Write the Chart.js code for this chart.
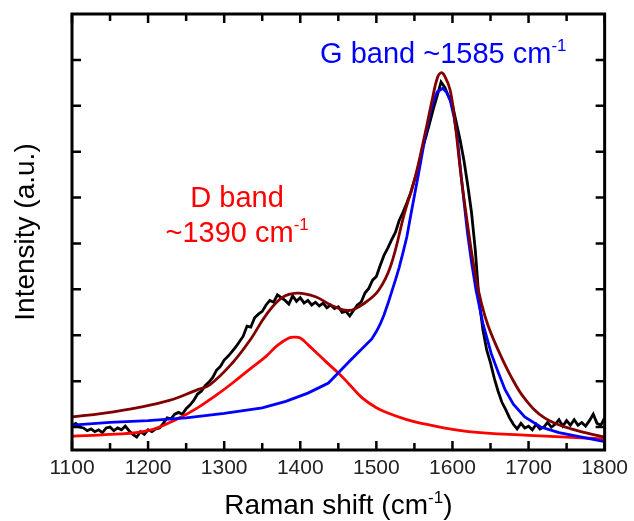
<!DOCTYPE html>
<html lang="en">
<head>
<meta charset="UTF-8">
<title>Raman spectrum - D and G bands</title>
<script src="https://cdn.jsdelivr.net/npm/chart.js"></script>
<style>
  html, body { margin: 0; padding: 0; background: #fff; }
  #wrap { width: 634px; height: 521px; }
</style>
</head>
<body>
<div id="wrap"><canvas id="raman"></canvas></div>
<script>
// measured spectrum (black), every 5 cm-1
const measuredShift = [
  1100,1105,1110,1115,1120,1125,1130,1135,1140,1145,1150,1155,1160,1165,1170,1175,1180,1185,1190,1195,
  1200,1205,1210,1215,1220,1225,1230,1235,1240,1245,1250,1255,1260,1265,1270,1275,1280,1285,1290,1295,
  1300,1305,1310,1315,1320,1325,1330,1335,1340,1345,1350,1355,1360,1365,1370,1375,1380,1385,1390,1395,
  1400,1405,1410,1415,1420,1425,1430,1435,1440,1445,1450,1455,1460,1465,1470,1475,1480,1485,1490,1495,
  1500,1505,1510,1515,1520,1525,1530,1535,1540,1545,1550,1555,1560,1565,1570,1575,1580,1585,1590,1595,
  1600,1605,1610,1615,1620,1625,1630,1635,1640,1645,1650,1655,1660,1665,1670,1675,1680,1685,1690,1695,
  1700,1705,1710,1715,1720,1725,1730,1735,1740,1745,1750,1755,1760,1765,1770,1775,1780,1785,1790,1795,
  1800
];
const measuredIntensity = [
  0.02,0.04,0.00,-0.01,-0.04,-0.02,-0.05,-0.03,-0.06,-0.01,0.00,-0.04,-0.01,-0.03,0.01,-0.04,-0.08,-0.11,-0.05,-0.08,
  -0.03,-0.05,-0.02,-0.01,0.04,0.10,0.09,0.14,0.16,0.14,0.20,0.24,0.29,0.36,0.39,0.45,0.49,0.54,0.62,0.66,
  0.73,0.77,0.82,0.87,0.93,0.99,1.10,1.09,1.19,1.23,1.26,1.33,1.38,1.36,1.44,1.41,1.38,1.34,1.43,1.37,
  1.41,1.35,1.38,1.33,1.36,1.32,1.35,1.30,1.33,1.29,1.31,1.25,1.26,1.21,1.27,1.33,1.36,1.46,1.51,1.60,
  1.64,1.76,1.87,1.95,2.04,2.12,2.25,2.34,2.44,2.55,2.69,2.82,3.02,3.16,3.31,3.47,3.61,3.76,3.70,3.60,
  3.51,3.32,3.13,2.91,2.64,2.34,1.93,1.38,1.06,0.84,0.70,0.53,0.39,0.27,0.19,0.10,0.03,-0.02,0.04,-0.01,
  0.01,-0.03,0.03,-0.02,0.00,0.05,0.00,0.03,0.08,0.01,0.07,0.02,0.08,0.02,0.05,0.01,0.07,0.14,0.04,0.02,
  0.10
];

// cumulative fit (dark red)
const fitShift = [1100,1140,1185,1228,1263,1281,1311,1335,1355,1376,1396,1420,1440,1464,1486,1503,1519,1537,1550,1563,
  1574,1580,1585,1590,1597,1603,1612,1622,1630,1638,1647,1660,1677,1695,1721,1756,1800];
const fitIntensity = [0.11,0.15,0.21,0.29,0.40,0.46,0.70,0.96,1.22,1.41,1.46,1.42,1.33,1.27,1.36,1.49,1.76,2.33,2.69,3.16,
  3.59,3.80,3.86,3.82,3.67,3.34,2.69,2.08,1.66,1.35,1.10,0.84,0.55,0.31,0.10,-0.02,-0.11];

// D band component (red)
const dShift = [1100,1150,1200,1241,1267,1290,1311,1335,1355,1370,1385,1392,1400,1411,1420,1434,1451,1464,1481,
  1500,1516,1540,1559,1621,1700,1800];
const dIntensity = [-0.10,-0.08,-0.04,0.10,0.22,0.35,0.48,0.64,0.77,0.89,0.97,0.98,0.97,0.89,0.82,0.71,0.58,0.47,0.32,
  0.21,0.15,0.08,0.04,-0.05,-0.09,-0.13];

// G band component (blue)
const gShift = [1100,1150,1200,1250,1300,1350,1381,1410,1437,1465,1494,1500,1505,1510,1515,1520,1525,1530,1535,1540,
  1545,1550,1555,1560,1565,1570,1575,1580,1587,1592,1597,1602,1606,1612,1620,1625,1631,1640,1651,1660,
  1669,1680,1695,1716,1740,1770,1800];
const gIntensity = [0.02,0.05,0.07,0.10,0.15,0.21,0.28,0.37,0.48,0.72,0.96,1.04,1.12,1.22,1.34,1.47,1.60,1.74,1.90,2.07,
  2.30,2.52,2.74,2.97,3.20,3.40,3.55,3.65,3.69,3.65,3.56,3.38,3.18,2.69,2.10,1.80,1.49,1.13,0.80,0.60,
  0.41,0.25,0.11,0.00,-0.06,-0.11,-0.16];

const xTickMarks = [1100,1150,1200,1250,1300,1350,1400,1450,1500,1550,1600,1650,1700,1750,1800];
const yTickMarks = [0,0.5,1,1.5,2,2.5,3,3.5,4];

const FONT = '"Liberation Sans", Arial, sans-serif';

function pairs(xs, ys) {
  return xs.map((x, i) => ({ x: x, y: ys[i] }));
}

// draws text with a raised "-1" part, centred on cx
function drawSupText(ctx, parts, cx, baseline, size, color) {
  const supSize = Math.round(size * 0.6);
  let total = 0;
  parts.forEach(p => {
    ctx.font = (p.sup ? supSize : size) + 'px ' + FONT;
    p.w = ctx.measureText(p.t).width;
    total += p.w;
  });
  let x = cx - total / 2;
  ctx.fillStyle = color;
  ctx.textAlign = 'left';
  ctx.textBaseline = 'alphabetic';
  parts.forEach(p => {
    ctx.font = (p.sup ? supSize : size) + 'px ' + FONT;
    ctx.fillText(p.t, x, p.sup ? baseline - size * 0.4 : baseline);
    x += p.w;
  });
}

const framePlugin = {
  id: 'frame',
  afterDatasetsDraw(chart) {
    const { ctx, chartArea: a, scales: { x, y } } = chart;
    ctx.save();
    ctx.strokeStyle = '#000';
    ctx.lineWidth = 3;
    ctx.strokeRect(a.left, a.top, a.right - a.left, a.bottom - a.top);

    // inward ticks on all four sides
    ctx.lineWidth = 2.5;
    ctx.beginPath();
    xTickMarks.forEach(v => {
      const px = x.getPixelForValue(v);
      const len = v % 100 === 0 ? 9 : 7;
      ctx.moveTo(px, a.bottom); ctx.lineTo(px, a.bottom - len);
      ctx.moveTo(px, a.top); ctx.lineTo(px, a.top + len);
    });
    yTickMarks.forEach(v => {
      const py = y.getPixelForValue(v);
      ctx.moveTo(a.left, py); ctx.lineTo(a.left + 9, py);
      ctx.moveTo(a.right, py); ctx.lineTo(a.right - 9, py);
    });
    ctx.stroke();

    // x axis title
    drawSupText(ctx, [{ t: 'Raman shift (cm' }, { t: '-1', sup: true }, { t: ')' }],
      (a.left + a.right) / 2, 514, 28, '#000');

    // band labels
    drawSupText(ctx, [{ t: 'D band' }], x.getPixelForValue(1317), y.getPixelForValue(2.40), 29, '#ff0000');
    drawSupText(ctx, [{ t: '~1390 cm' }, { t: '-1', sup: true }],
      x.getPixelForValue(1317), y.getPixelForValue(2.02), 29, '#ff0000');
    drawSupText(ctx, [{ t: 'G band ~1585 cm' }, { t: '-1', sup: true }],
      x.getPixelForValue(1588), y.getPixelForValue(3.97), 29, '#0000ff');
    ctx.restore();
  }
};

function initChart() {
  const ctx = document.getElementById('raman').getContext('2d');
  new Chart(ctx, {
    type: 'line',
    data: {
      datasets: [
        { label: 'Fit', data: pairs(fitShift, fitIntensity), borderColor: '#800000', borderWidth: 2.8,
          tension: 0.4, order: 0 },
        { label: 'G band', data: pairs(gShift, gIntensity), borderColor: '#0000ff', borderWidth: 2.8,
          tension: 0, order: 1 },
        { label: 'D band', data: pairs(dShift, dIntensity), borderColor: '#ff0000', borderWidth: 2.8,
          tension: 0.4, order: 2 },
        { label: 'Measured', data: pairs(measuredShift, measuredIntensity), borderColor: '#000000', borderWidth: 2.8,
          tension: 0, order: 3 }
      ]
    },
    options: {
      responsive: true,
      maintainAspectRatio: false,
      animation: false,
      elements: { point: { radius: 0 } },
      layout: { padding: { top: 14, right: 27, left: 0, bottom: 0 } },
      plugins: { legend: { display: false }, tooltip: { enabled: false } },
      scales: {
        x: {
          type: 'linear',
          min: 1100,
          max: 1800,
          afterFit: s => { s.height = 71; },
          grid: { display: false, drawTicks: false },
          border: { display: false },
          ticks: { stepSize: 100, maxRotation: 0, padding: 6, color: '#222',
                   font: { family: FONT, size: 21 },
                   callback: v => String(v) }
        },
        y: {
          min: -0.25,
          max: 4.5,
          afterFit: s => { s.width = 72; },
          grid: { display: false, drawTicks: false },
          border: { display: false },
          ticks: { display: false },
          title: { display: true, text: 'Intensity (a.u.)', color: '#000',
                   font: { family: FONT, size: 28 }, padding: { top: 9, bottom: 0 } }
        }
      }
    },
    plugins: [framePlugin]
  });
}

window.onload = initChart;
</script>
</body>
</html>
